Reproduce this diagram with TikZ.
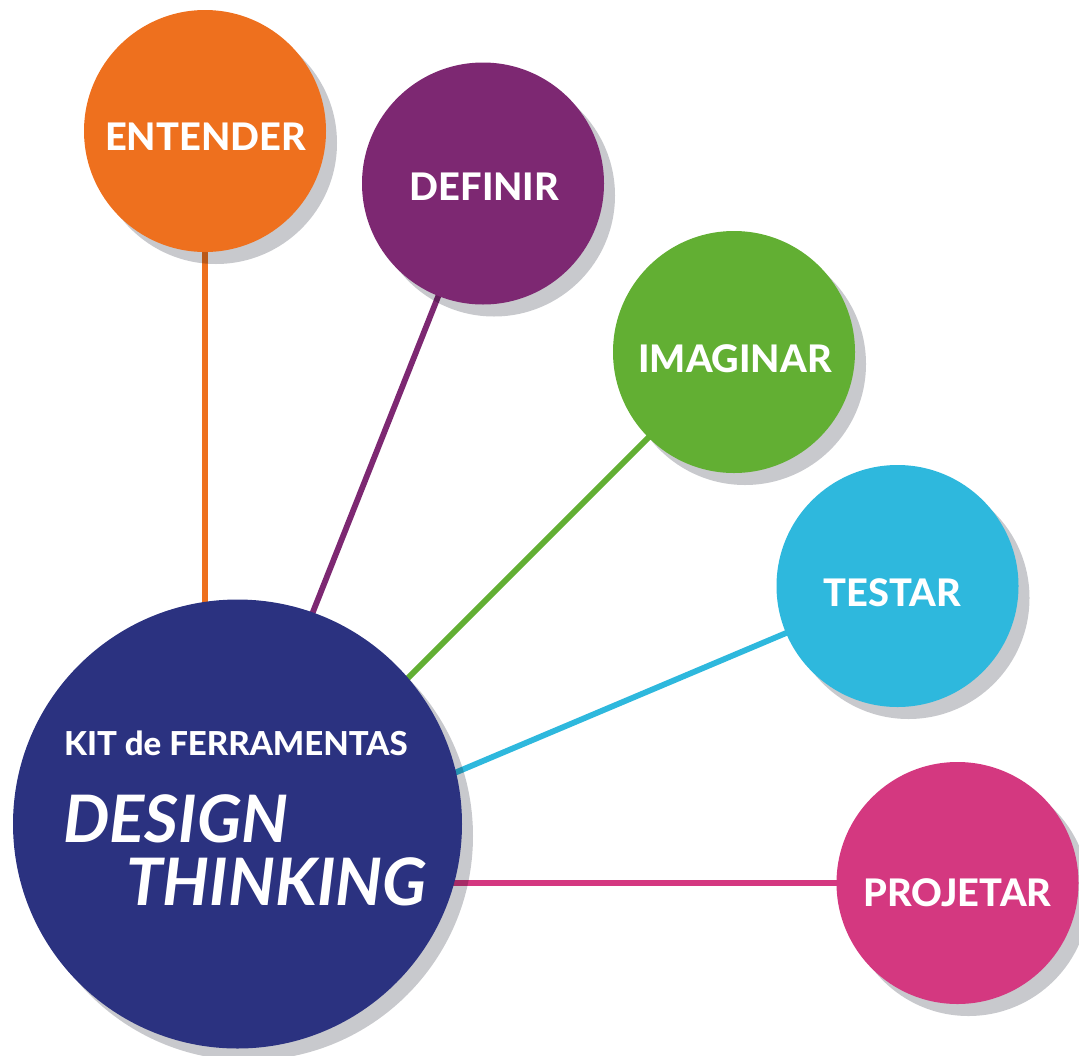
\documentclass[tikz,border=0pt]{standalone}
\usepackage{fontspec}
\setmainfont{Lato}
\newfontfamily\heavyfont{Lato Heavy}
\usetikzlibrary{calc}
\definecolor{cOrange}{RGB}{238,112,30}
\definecolor{cPurple}{RGB}{125,40,114}
\definecolor{cGreen}{RGB}{98,175,51}
\definecolor{cCyan}{RGB}{46,184,221}
\definecolor{cPink}{RGB}{212,56,128}
\definecolor{cNavy}{RGB}{43,50,128}
\definecolor{shadowgray}{RGB}{200,201,205}
\pgfdeclarelayer{lines}
\pgfdeclarelayer{shadows}
\pgfsetlayers{lines,shadows,main}
\begin{document}
\begin{tikzpicture}[x=1pt,y=-1pt,
  bubble/.style={circle, inner sep=0pt, minimum size=242pt, draw=none},
  hubcircle/.style={circle, inner sep=0pt, minimum size=449pt, draw=none},
  conn/.style={line width=5.8pt},
  lbl/.style={text=white, font=\heavyfont\fontsize{38}{41}\selectfont, inner sep=0pt, anchor=base},
  shadowcircle/.style={fill=shadowgray}]
\useasboundingbox (0,0) rectangle (1079,1055);
% circles
\node[bubble, fill=cOrange] (ent) at (205,131) {};
\node[bubble, fill=cPurple] (def) at (483,183.5) {};
\node[bubble, fill=cGreen] (ima) at (734,352) {};
\node[bubble, fill=cCyan] (tes) at (897.5,586) {};
\node[bubble, fill=cPink] (pro) at (957.5,883) {};
\node[hubcircle, fill=cNavy] (hub) at (237.5,824) {};
% labels
\node[lbl] (entL) at (205.5,150) {ENTENDER};
\node[lbl] (defL) at (484.5,200) {DEFINIR};
\node[lbl] (imaL) at (735,372) {IMAGINAR};
\node[lbl] (tesL) at (892.5,606) {TESTAR};
\node[lbl] (proL) at (957.5,906) {PROJETAR};
\node[anchor=base west, inner sep=0pt, text=white, font=\heavyfont\fontsize{33}{36}\selectfont] (kit) at (64,755) {KIT de FERRAMENTAS};
\node[anchor=base west, inner sep=0pt, text=white, font=\bfseries\itshape\fontsize{65.5}{70}\selectfont] (design) at (63,842) {DESIGN};
\node[anchor=base west, inner sep=0pt, text=white, font=\bfseries\itshape\fontsize{65.5}{70}\selectfont] (thinking) at (126,905) {THINKING};
% hidden end points inside the hub
\coordinate (hEnt) at (205,700);
\coordinate (hDef) at (278,700);
\coordinate (hIma) at (386,700);
\coordinate (hTes) at (400,796);
\coordinate (hPro) at (400,883);
\begin{pgfonlayer}{lines}
\draw[conn, draw=cOrange] (ent.center) -- (hEnt);
\draw[conn, draw=cPurple] (def.center) -- (hDef);
\draw[conn, draw=cGreen] (ima.center) -- (hIma);
\draw[conn, draw=cCyan] (tes.center) -- (hTes);
\draw[conn, draw=cPink] (pro.center) -- (hPro);
\end{pgfonlayer}
\begin{pgfonlayer}{shadows}
\begin{scope}[blend mode=multiply]
\foreach \n/\r in {ent/121,def/121,ima/121,tes/121,pro/121,hub/224.5}
  \fill[shadowcircle] ($(\n.center)+(11,12)$) circle[radius=\r pt];
\end{scope}
\end{pgfonlayer}
\end{tikzpicture}
\end{document}
